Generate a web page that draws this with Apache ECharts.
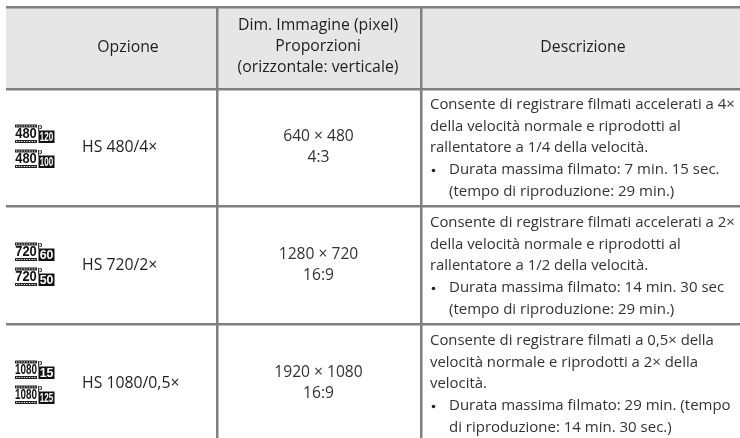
<!DOCTYPE html>
<html>
<head>
<meta charset="utf-8">
<style>html,body{margin:0;padding:0;background:#fff}#main{width:740px;height:438px}</style>
<script src="https://cdn.jsdelivr.net/npm/echarts@6/dist/echarts.min.js"></script>
</head>
<body>
<div id="main"></div>
<script>
// table content
const headers = [['Opzione'], ['Dim. Immagine (pixel)', 'Proporzioni', '(orizzontale: verticale)'], ['Descrizione']];
const options = ['HS 480/4×', 'HS 720/2×', 'HS 1080/0,5×'];
const sizes = [['640 × 480', '4:3'], ['1280 × 720', '16:9'], ['1920 × 1080', '16:9']];
const icons = [[['480', '120'], ['480', '100']], [['720', '60'], ['720', '50']], [['1080', '15'], ['1080', '125']]];
const descriptions = [
  ['Consente di registrare filmati accelerati a 4×', 'della velocità normale e riprodotti al', 'rallentatore a 1/4 della velocità.'],
  ['Consente di registrare filmati accelerati a 2×', 'della velocità normale e riprodotti al', 'rallentatore a 1/2 della velocità.'],
  ['Consente di registrare filmati a 0,5× della', 'velocità normale e riprodotti a 2× della', 'velocità.']
];
const bullets = [
  ['Durata massima filmato: 7 min. 15 sec.', '(tempo di riproduzione: 29 min.)'],
  ['Durata massima filmato: 14 min. 30 sec', '(tempo di riproduzione: 29 min.)'],
  ['Durata massima filmato: 29 min. (tempo', 'di riproduzione: 14 min. 30 sec.)']
];

const FONT = '"Open Sans", sans-serif';
const LINE = '#808080';
const INK = '#1f1f1f';
const BODY = '#333';
const rowTops = [90, 208, 326];
const lineHeight = 21.6;

const els = [];
function rect(x, y, width, height, fill) {
  els.push({ type: 'rect', silent: true, shape: { x, y, width, height }, style: { fill } });
}
function text(x, y, str, size, opts, scaleX) {
  els.push({
    type: 'text', silent: true, x, y, scaleX: scaleX || 1,
    style: Object.assign({ text: str, font: size + 'px ' + FONT, fill: INK, textAlign: 'left', textVerticalAlign: 'middle' }, opts)
  });
}

// header and rules
rect(6, 8, 734, 81, '#e6e6e6');
rect(6, 6, 734, 2.5, LINE);
rect(6, 88, 734, 2.5, LINE);
rect(6, 205, 734, 2.5, LINE);
rect(6, 323, 734, 2.5, LINE);
rect(216, 8, 2.5, 430, LINE);
rect(420, 8, 2.5, 430, LINE);

text(128, 47, headers[0][0], 15.8, { textAlign: 'center' });
headers[1].forEach((s, i) => text(318, 25.5 + i * 21, s, 15.8, { textAlign: 'center' }));
text(583, 47, headers[2][0], 15.8, { textAlign: 'center' });

// recording mode glyph: film strip with resolution, plus frame rate box
function icon(x, y, res, fps) {
  const w = 22;
  rect(x, y, w, 3, '#222');
  rect(x, y + 15.5, w, 3, '#222');
  for (let i = 0; i < 8; i++) {
    rect(x + 1 + i * 2.6, y + 1, 1.2, 1, '#fff');
    rect(x + 1 + i * 2.6, y + 16.5, 1.2, 1, '#fff');
  }
  const bold = 'bold 15px "Liberation Sans"';
  text(x + w / 2, y + 9.6, res, 15, { textAlign: 'center', font: bold, fill: '#111' }, res.length > 3 ? 0.66 : 0.86);
  text(x + w + 3, y + 2, 'p', 7, { textAlign: 'center', font: 'bold 8px "Liberation Sans"', fill: '#333' });
  rect(x + w + 1.5, y + 6, 16, 12.5, '#111');
  text(x + w + 9.5, y + 12.5, fps, 13, { textAlign: 'center', font: 'bold 13px "Liberation Sans"', fill: '#fff' }, fps.length > 2 ? 0.62 : 0.95);
}

rowTops.forEach((top, r) => {
  icon(15, top + 34.5, icons[r][0][0], icons[r][0][1]);
  icon(15, top + 59.5, icons[r][1][0], icons[r][1][1]);
  text(82, top + 57, options[r], 15.8);
  sizes[r].forEach((s, i) => text(318.5, top + 47 + i * 21, s, 15.6, { textAlign: 'center', fill: BODY }));
  descriptions[r].forEach((s, i) => text(430, top + 15 + i * lineHeight, s, 14.9, { fill: BODY }));
  bullets[r].forEach((s, i) => {
    if (i === 0) els.push({ type: 'circle', silent: true, shape: { cx: 433.5, cy: top + 80.5, r: 1.8 }, style: { fill: '#222' } });
    text(449, top + 79.8 + i * lineHeight, s, 15, { fill: BODY });
  });
});

const chart = echarts.init(document.getElementById('main'), null, { renderer: 'canvas' });
chart.setOption({ animation: false, graphic: { elements: els } });
</script>
</body>
</html>
